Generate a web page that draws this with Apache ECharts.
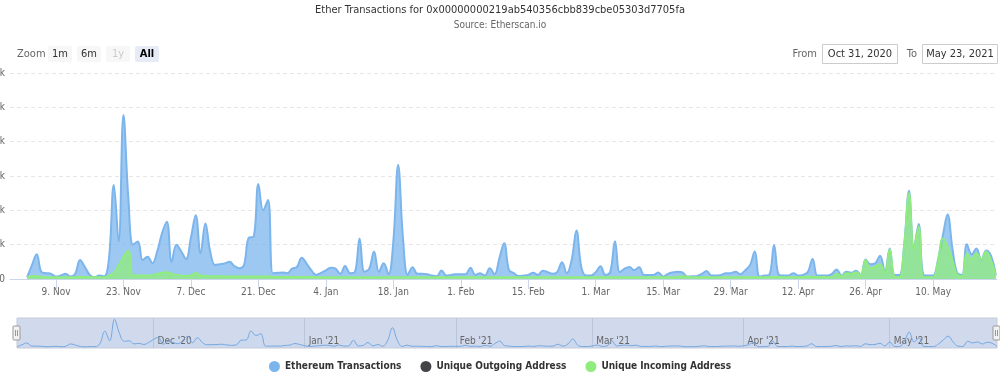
<!DOCTYPE html>
<html><head><meta charset="utf-8">
<script src="https://cdn.jsdelivr.net/npm/echarts@6/dist/echarts.min.js"></script>
<style>html,body{margin:0;padding:0;background:#fff}#c{width:1000px;height:376px}</style>
</head><body><div id="c"></div>
<script>
const FONT = '"DejaVu Sans Condensed","Liberation Sans",sans-serif';

// daily values starting 2020-11-03
const firstDate = '2020-11-03';
const ethereumTransactions = [
  50,400,720,200,170,150,70,100,150,70,
  150,550,350,120,50,100,80,600,2740,1090,
  4780,2400,1000,1090,550,650,460,800,1330,1670,
  500,1000,800,580,1200,1860,750,1620,800,410,
  430,450,500,380,310,400,1200,1230,2770,2000,
  2300,170,180,190,170,300,350,620,450,250,
  120,180,250,330,300,150,380,170,200,1180,
  210,300,800,210,460,140,1100,3320,1200,120,
  340,150,150,140,100,80,250,100,120,140,
  140,140,330,120,170,100,310,140,600,1040,
  260,170,90,100,120,180,120,240,200,150,
  200,490,170,550,1410,350,100,100,200,370,
  120,200,1100,200,300,350,260,340,120,120,
  120,190,70,150,190,210,190,70,80,90,
  150,230,100,100,120,170,170,210,140,250,
  400,800,70,100,120,990,120,100,100,170,
  100,120,200,580,100,100,100,150,280,100,
  210,180,240,120,570,430,460,680,210,890,
  120,120,1000,2570,890,1600,120,100,100,550,
  1250,1880,900,170,120,1010,720,890,550,830,
  680,120
];
const uniqueOutgoingAddress = [
  0,0,0,0,0,0,0,0,0,0,0,0,0,0,0,0,0,0,0,0,
  0,0,0,0,0,0,0,0,0,0,0,0,0,0,0,0,0,0,0,0,
  0,0,0,0,0,0,0,0,0,0,0,0,0,0,0,0,0,0,0,0,
  0,0,0,0,0,0,0,0,0,0,0,0,0,0,0,0,0,0,0,0,
  0,0,0,0,0,0,0,0,0,0,0,0,0,0,0,0,0,0,0,0,
  0,0,0,0,0,0,0,0,0,0,0,0,0,0,0,0,0,0,0,0,
  0,0,0,0,0,0,0,0,0,0,0,0,0,0,0,0,0,0,0,0,
  0,0,0,0,0,0,0,0,0,0,0,0,0,0,0,0,0,0,0,0,
  0,0,0,0,0,0,0,0,0,0,0,0,0,0,0,0,0,0,0,0,
  0,0,0,0,0,0,0,0,0,0,0,0,0,0,0,0,0,0,0,0,
  0,0
];
const uniqueIncomingAddress = [
  50,80,80,60,50,50,50,50,50,50,
  50,60,60,50,50,50,50,100,170,400,
  650,830,100,100,100,100,110,150,180,200,
  150,120,100,90,100,180,100,90,80,80,
  80,80,70,70,70,70,70,70,70,70,
  70,60,60,60,60,60,60,60,60,60,
  50,50,50,50,50,50,50,50,50,50,
  50,50,50,50,50,50,50,50,50,50,
  50,50,50,50,50,50,50,50,50,50,
  50,50,50,50,50,50,50,50,50,50,
  50,50,50,50,50,50,50,50,50,50,
  50,50,50,50,50,50,50,50,50,50,
  50,50,50,50,50,50,50,50,50,50,
  50,50,50,50,50,60,80,60,50,50,
  50,50,50,50,50,50,50,50,50,50,
  50,50,50,50,50,60,60,50,50,50,
  50,60,70,60,60,60,50,60,150,80,
  170,150,200,100,550,310,360,430,170,870,
  70,50,950,2500,850,1520,50,50,50,500,
  1180,950,550,120,80,750,580,750,570,800,
  550,100
];

const xTickDates = ['2020-11-09','2020-11-23','2020-12-07','2020-12-21','2021-01-04','2021-01-18','2021-02-01','2021-02-15','2021-03-01','2021-03-15','2021-03-29','2021-04-12','2021-04-26','2021-05-10'];
const xTickLabels = ['9. Nov','23. Nov','7. Dec','21. Dec','4. Jan','18. Jan','1. Feb','15. Feb','1. Mar','15. Mar','29. Mar','12. Apr','26. Apr','10. May'];
const yTickLabels = ['0','1k','2k','3k','4k','5k','6k'];
const navTickDates = ['2020-12-01','2021-01-01','2021-02-01','2021-03-01','2021-04-01','2021-05-01'];
const navTickLabels = ["Dec '20","Jan '21","Feb '21","Mar '21","Apr '21","May '21"];
const rangeFrom = '2020-10-31', rangeTo = '2021-05-23';
const rangeFromLabel = 'Oct 31, 2020', rangeToLabel = 'May 23, 2021';

const DAY = 86400000;
const toTs = s => Date.parse(s + 'T00:00:00Z');
const t0 = toTs(firstDate);
const pairs = arr => arr.map((v, i) => [t0 + i * DAY, v]);
const xTickTs = xTickDates.map(toTs);
const navTickTs = navTickDates.map(toTs);
const lookup = (tsArr, labels) => v => { let b = 0, bd = Infinity; tsArr.forEach((t, i) => { const d = Math.abs(t - v); if (d < bd) { bd = d; b = i; } }); return labels[b]; };

const chart = echarts.init(document.getElementById('c'), null, {renderer: 'canvas'});

function button(x, label, state) {
  const bg = state === 'sel' ? '#e6ebf5' : '#f7f7f7';
  const col = state === 'dis' ? '#cccccc' : (state === 'sel' ? '#000' : '#333');
  return [
    {type: 'rect', shape: {x: x, y: 46, width: 24, height: 16, r: 2}, style: {fill: bg}},
    {type: 'text', x: x + 12, y: 54, style: {text: label, align: 'center', verticalAlign: 'middle', fill: col, font: (state === 'sel' ? 'bold ' : '') + '11px ' + FONT}}
  ];
}
function handle(x) {
  return [
    {type: 'rect', shape: {x: x, y: 326, width: 7, height: 14, r: 1}, style: {fill: '#f2f2f2', stroke: '#999', lineWidth: 1}, z: 100},
    {type: 'line', shape: {x1: x + 2.5, y1: 330, x2: x + 2.5, y2: 336}, style: {stroke: '#999', lineWidth: 1}, z: 101},
    {type: 'line', shape: {x1: x + 4.5, y1: 330, x2: x + 4.5, y2: 336}, style: {stroke: '#999', lineWidth: 1}, z: 101}
  ];
}

const graphics = [].concat(
  [{type: 'text', x: 17, y: 54, style: {text: 'Zoom', verticalAlign: 'middle', fill: '#666', font: '11px ' + FONT}}],
  button(48, '1m'), button(77, '6m'), button(106, '1y', 'dis'), button(135, 'All', 'sel'),
  [
    {type: 'text', x: 817, y: 54, style: {text: 'From', align: 'right', verticalAlign: 'middle', fill: '#666', font: '11px ' + FONT}},
    {type: 'rect', shape: {x: 822.5, y: 44.5, width: 75, height: 19}, style: {fill: '#fff', stroke: '#cccccc', lineWidth: 1}},
    {type: 'text', x: 860, y: 54, style: {text: rangeFromLabel, align: 'center', verticalAlign: 'middle', fill: '#333', font: '11px ' + FONT}},
    {type: 'text', x: 917, y: 54, style: {text: 'To', align: 'right', verticalAlign: 'middle', fill: '#666', font: '11px ' + FONT}},
    {type: 'rect', shape: {x: 922.5, y: 44.5, width: 75, height: 19}, style: {fill: '#fff', stroke: '#cccccc', lineWidth: 1}},
    {type: 'text', x: 960, y: 54, style: {text: rangeToLabel, align: 'center', verticalAlign: 'middle', fill: '#333', font: '11px ' + FONT}}
  ],
  handle(13), handle(993)
);

chart.setOption({
  animation: false,
  textStyle: {fontFamily: FONT},
  title: {
    text: 'Ether Transactions for 0x00000000219ab540356cbb839cbe05303d7705fa',
    subtext: 'Source: Etherscan.io',
    left: 'center', top: 0, padding: [5, 5, 5, 5], itemGap: 4,
    textStyle: {fontSize: 11, fontWeight: 'normal', color: '#333', fontFamily: FONT},
    subtextStyle: {fontSize: 10, color: '#666', fontFamily: FONT}
  },
  legend: {
    data: ['Ethereum Transactions', 'Unique Outgoing Address', 'Unique Incoming Address'],
    top: 356, left: 'center', icon: 'circle', itemWidth: 11, itemHeight: 11, itemGap: 19,
    textStyle: {fontSize: 10, fontWeight: 'bold', color: '#333', fontFamily: FONT}
  },
  grid: [
    {left: 10, right: 3, top: 73, height: 206, outerBoundsMode: 'none', containLabel: false},
    {left: 17, right: 3, top: 318, height: 30, outerBoundsMode: 'none', containLabel: false, show: true, backgroundColor: '#d1daed', borderColor: '#c5cbd8', borderWidth: 1}
  ],
  xAxis: [
    {type: 'value', gridIndex: 0, min: toTs(rangeFrom) - 0.54 * DAY, max: toTs(rangeTo) + 0.26 * DAY,
     axisLine: {lineStyle: {color: '#ccd6eb'}},
     axisTick: {show: true, customValues: xTickTs, length: 10, lineStyle: {color: '#ccd6eb'}},
     axisLabel: {customValues: xTickTs, formatter: lookup(xTickTs, xTickLabels), color: '#666', fontSize: 10, fontFamily: FONT, margin: 8},
     splitLine: {show: false}},
    {type: 'value', gridIndex: 1, min: t0, max: t0 + (ethereumTransactions.length - 1) * DAY,
     axisLine: {show: false},
     axisTick: {show: false, customValues: navTickTs},
     axisLabel: {customValues: navTickTs, formatter: lookup(navTickTs, navTickLabels), inside: true, align: 'left', padding: [0, 0, 0, 4], margin: 2, color: '#666', fontSize: 10, fontFamily: FONT},
     splitLine: {show: true, lineStyle: {color: '#bcc6da', width: 1}}}
  ],
  yAxis: [
    {type: 'value', gridIndex: 0, min: 0, max: 6000, interval: 1000,
     axisLine: {show: false}, axisTick: {show: false},
     axisLabel: {formatter: v => yTickLabels[Math.round(v / 1000)], color: '#666', fontSize: 10, fontFamily: FONT, margin: 5},
     splitLine: {lineStyle: {color: '#e6e6e6', type: [4, 3]}}},
    {type: 'value', gridIndex: 1, min: -150, max: 5000, show: false, splitLine: {show: false}}
  ],
  series: [
    {name: 'Ethereum Transactions', type: 'line', xAxisIndex: 0, yAxisIndex: 0, data: pairs(ethereumTransactions),
     smooth: 0.4, showSymbol: false, symbol: 'none', color: '#7cb5ec',
     lineStyle: {width: 2, color: '#7cb5ec'}, areaStyle: {color: '#7cb5ec', opacity: 0.75}},
    {name: 'Unique Outgoing Address', type: 'line', xAxisIndex: 0, yAxisIndex: 0, data: pairs(uniqueOutgoingAddress),
     smooth: 0.4, showSymbol: false, symbol: 'none', color: '#434348',
     lineStyle: {width: 0, color: '#434348'}, areaStyle: {color: '#434348', opacity: 0.75}},
    {name: 'Unique Incoming Address', type: 'line', xAxisIndex: 0, yAxisIndex: 0, data: pairs(uniqueIncomingAddress),
     smooth: 0.4, showSymbol: false, symbol: 'none', color: '#90ed7d',
     lineStyle: {width: 2, color: '#90ed7d'}, areaStyle: {color: '#90ed7d', opacity: 0.75}},
    {name: 'navigator', type: 'line', xAxisIndex: 1, yAxisIndex: 1, data: pairs(ethereumTransactions),
     smooth: 0.4, showSymbol: false, symbol: 'none', silent: true,
     lineStyle: {width: 1, color: '#75a7df'}, areaStyle: {color: 'rgba(124,181,236,0.08)'}}
  ],
  graphic: graphics
});
</script></body></html>
